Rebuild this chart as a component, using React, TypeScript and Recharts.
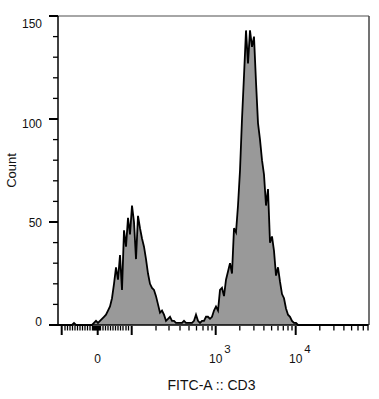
import { AreaChart, Area, XAxis, YAxis, ReferenceLine } from "recharts";

// histogram counts, one bin every 2 display units, starting at 0
const binWidth = 2;
const counts = [
  0, 0, 0, 0, 0, 0, 0, 0, 1, 0,
  0, 0, 0, 0, 0, 0, 0, 0, 1, 2,
  1, 2, 3, 4, 5, 7, 9, 13, 20, 28,
  22, 34, 17, 46, 38, 52, 44, 58, 50, 32,
  53, 47, 42, 38, 32, 25, 20, 18, 17, 14,
  10, 6, 7, 5, 2, 3, 4, 2, 2, 1,
  1, 1, 1, 2, 1, 1, 1, 1, 2, 5,
  2, 1, 2, 2, 4, 4, 3, 4, 7, 9,
  7, 17, 18, 14, 22, 26, 30, 25, 47, 45,
  58, 75, 100, 121, 143, 127, 143, 135, 140, 118,
  98, 90, 80, 73, 58, 66, 40, 43, 36, 24,
  28, 21, 15, 13, 8, 5, 4, 2, 1, 1,
  0, 0, 0, 0, 0, 0, 0, 0, 0, 0,
  0, 0, 0, 0, 0, 0, 0, 0, 0, 0,
  0, 0, 0, 0, 0, 0, 0, 0, 0, 0,
  0, 0, 0, 0, 0, 0,
];

// x axis (biexponential display units)
const xDomain = [0, 311];
const xLabelTicks = [
  { pos: 39.7, base: "0", exp: "" },
  { pos: 157.7, base: "10", exp: "3" },
  { pos: 237.7, base: "10", exp: "4" },
];
const xMajorTicks = [3.7, 73.7];
const xMinorTicks = [
  7, 9.5, 12, 14.5, 17, 19.5, 22, 24.5, 27, 29.5, 32, 34.5, 35.5, 36.5, 37.5, 38.5,
  40.5, 41.5, 42.5, 45, 47.5, 50, 52.5, 55, 57.5, 60, 62.5, 65, 68, 70.5,
  98, 111, 122, 131, 138.5, 145, 150, 154,
  181.8, 195.9, 205.9, 213.6, 220, 225.3, 230, 234,
  261.8, 275.9, 285.9, 293.6, 300, 305.3, 310,
];

const yTicks = [0, 10, 20, 30, 40, 50, 60, 70, 80, 90, 100, 110, 120, 130, 140, 150];
const yLabelTicks = [0, 50, 100, 150];

const data = counts.map((c, i) => ({ d: i * binWidth, count: c }));
const allXTicks = [...xLabelTicks.map((t) => t.pos), ...xMajorTicks, ...xMinorTicks].sort((a, b) => a - b);

const font = "'Liberation Sans', Arial, sans-serif";

function XTick(props: any) {
  const { x, y, payload } = props;
  const v = payload.value;
  const lab = xLabelTicks.find((t) => t.pos === v);
  const isMajor = !!lab || xMajorTicks.includes(v);
  return (
    <g>
      <line x1={x} x2={x} y1={y + 1} y2={y + (isMajor ? 10 : 5.5)} stroke="#000" strokeWidth={isMajor ? 2 : 1.3} />
      {lab && (
        <text x={x} y={y + 38} textAnchor="middle" fontSize={12} fontFamily={font} fill="#111">
          {lab.base}
        </text>
      )}
      {lab && lab.exp && (
        <text x={x + 8.5} y={y + 28} textAnchor="start" fontSize={11.5} fontFamily={font} fill="#111">
          {lab.exp}
        </text>
      )}
    </g>
  );
}

function YTick(props: any) {
  const { x, y, payload } = props;
  const v = payload.value;
  const isMajor = yLabelTicks.includes(v);
  const shift = -3 + (v / 150) * 11;
  return (
    <g>
      <line x1={x - (isMajor ? 9 : 5)} x2={x} y1={y} y2={y} stroke="#000" strokeWidth={isMajor ? 2 : 1.3} />
      {isMajor && (
        <text x={x - 16} y={y + shift + 4.3} textAnchor="end" fontSize={12} fontFamily={font} fill="#111">
          {v}
        </text>
      )}
    </g>
  );
}

export default function App() {
  return (
    <div style={{ position: "absolute", left: 0, top: 0, width: 379, height: 399, background: "#fff" }}>
      <AreaChart width={379} height={399} data={data} margin={{ top: 16, right: 10, left: 0, bottom: 0 }}>
        <XAxis
          dataKey="d"
          type="number"
          domain={xDomain}
          ticks={allXTicks}
          interval={0}
          height={74}
          tickSize={0}
          tickMargin={0}
          tickLine={false}
          tick={<XTick />}
          axisLine={{ stroke: "#000", strokeWidth: 1.5 }}
          label={{
            content: (p: any) => (
              <text
                x={p.viewBox.x + p.viewBox.width / 2 - 2}
                y={p.viewBox.y + 65}
                textAnchor="middle"
                fontSize={14}
                fontFamily={font}
                fill="#111"
              >
                FITC-A :: CD3
              </text>
            ),
          }}
        />
        <YAxis
          type="number"
          domain={[0, 150]}
          ticks={yTicks}
          interval={0}
          width={58}
          tickSize={0}
          tickMargin={0}
          tickLine={false}
          tick={<YTick />}
          axisLine={{ stroke: "#000", strokeWidth: 1.5 }}
          label={{
            content: (p: any) => (
              <text
                x={15.5}
                y={p.viewBox.y + p.viewBox.height / 2}
                transform={`rotate(-90, 15.5, ${p.viewBox.y + p.viewBox.height / 2})`}
                textAnchor="middle"
                fontSize={13}
                fontFamily={font}
                fill="#111"
              >
                Count
              </text>
            ),
          }}
        />
        <ReferenceLine y={150} stroke="#888" strokeWidth={1.5} />
        <ReferenceLine x={311} stroke="#444" strokeWidth={1.5} />
        <Area
          type="linear"
          dataKey="count"
          stroke="#000"
          strokeWidth={1.8}
          fill="#999"
          fillOpacity={1}
          dot={false}
          activeDot={false}
          isAnimationActive={false}
        />
      </AreaChart>
    </div>
  );
}
